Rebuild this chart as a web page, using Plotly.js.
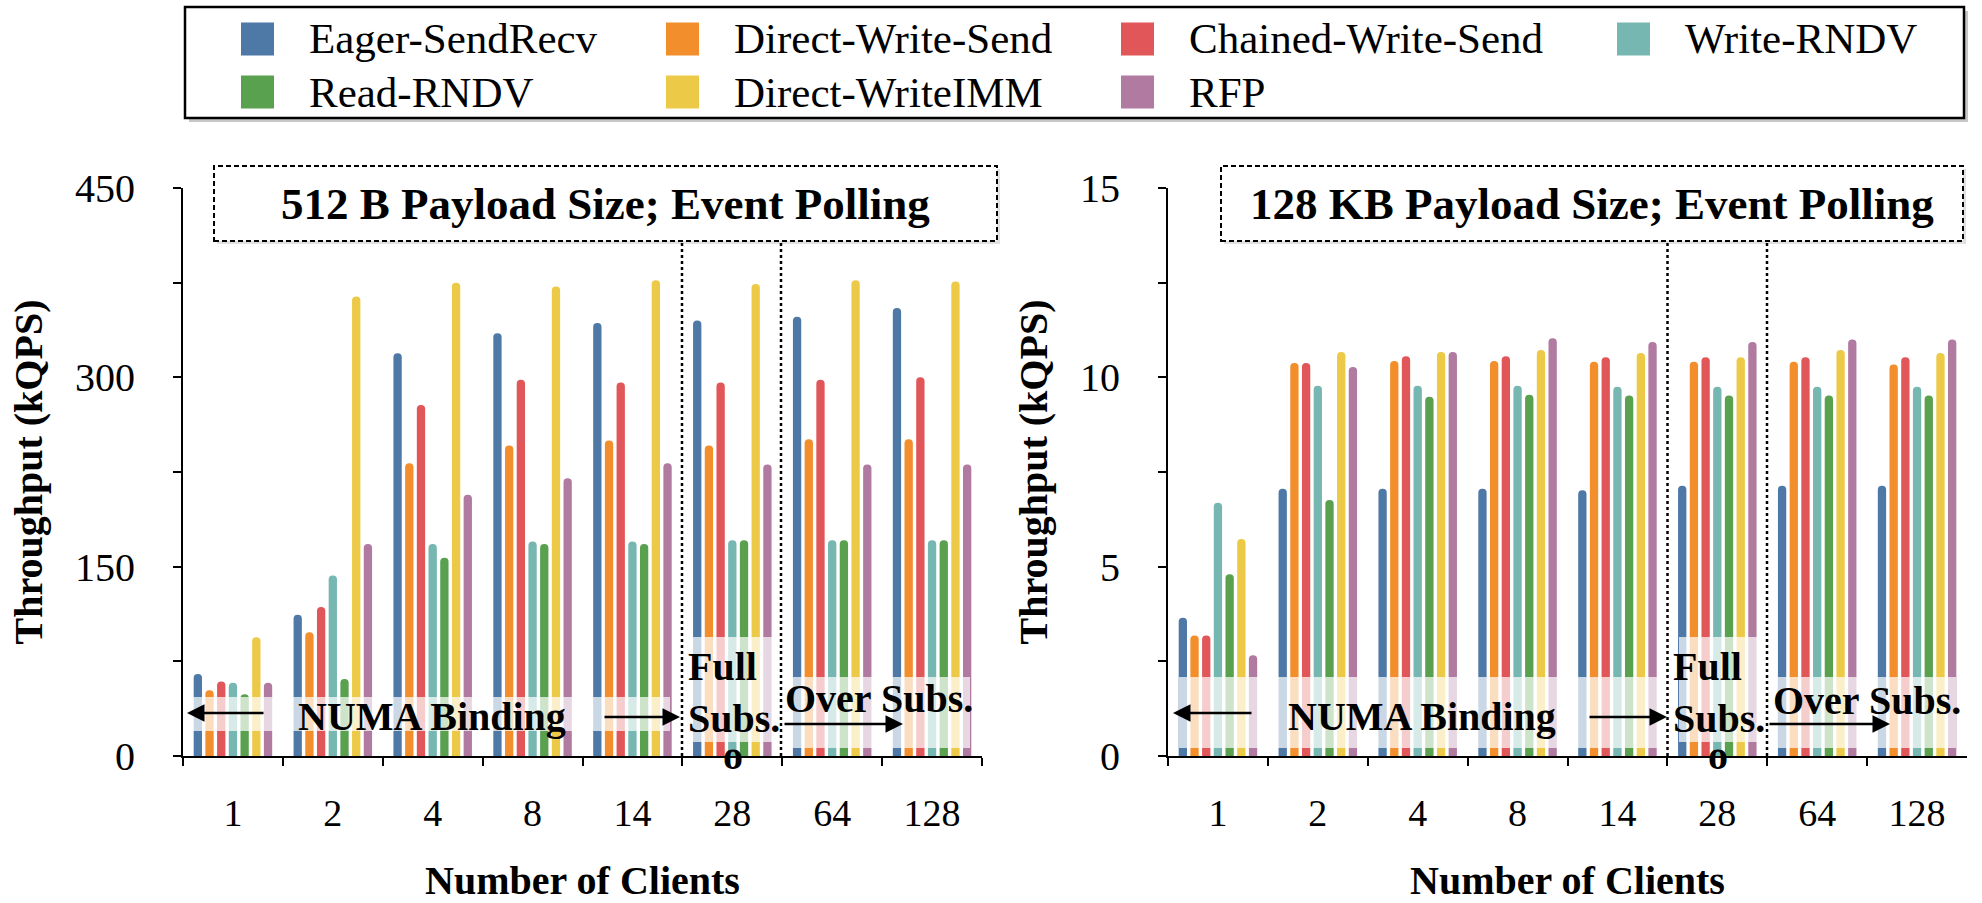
<!DOCTYPE html>
<html><head><meta charset="utf-8">
<script src="https://cdn.plot.ly/plotly-3.0.1.min.js"></script>
<style>html,body{margin:0;padding:0;background:#fff;} #chart{width:1982px;height:903px;}</style>
</head><body><div id="chart"></div>
<script>
// ---- data ----
const clients = ['1','2','4','8','14','28','64','128'];
const seriesNames = ['Eager-SendRecv','Direct-Write-Send','Chained-Write-Send','Write-RNDV','Read-RNDV','Direct-WriteIMM','RFP'];
const seriesColors = ['#4E79A7','#F28E2B','#E15759','#76B7B2','#59A14F','#EDC948','#B07AA1'];

// 512 B payload (kQPS)
const eager512        = [65, 112, 319, 335, 343, 345, 348, 355];
const directWrite512  = [52, 98, 232, 246, 250, 246, 251, 251];
const chained512      = [59, 118, 278, 298, 296, 296, 298, 300];
const writeRndv512    = [58, 143, 168, 170, 170, 171, 171, 171];
const readRndv512     = [49, 61, 157, 168, 168, 171, 171, 171];
const writeImm512     = [94, 364, 375, 372, 377, 374, 377, 376];
const rfp512          = [58, 168, 207, 220, 232, 231, 231, 231];

// 128 KB payload (kQPS)
const eager128k       = [3.65, 7.06, 7.06, 7.06, 7.02, 7.14, 7.14, 7.14];
const directWrite128k = [3.18, 10.38, 10.43, 10.43, 10.41, 10.41, 10.41, 10.34];
const chained128k     = [3.18, 10.38, 10.56, 10.56, 10.53, 10.53, 10.53, 10.53];
const writeRndv128k   = [6.69, 9.78, 9.78, 9.78, 9.75, 9.75, 9.75, 9.75];
const readRndv128k    = [4.80, 6.76, 9.49, 9.54, 9.52, 9.52, 9.52, 9.52];
const writeImm128k    = [5.73, 10.67, 10.67, 10.72, 10.64, 10.53, 10.72, 10.64];
const rfp128k         = [2.66, 10.27, 10.67, 11.03, 10.93, 10.93, 11.00, 11.00];

const panel512  = [eager512, directWrite512, chained512, writeRndv512, readRndv512, writeImm512, rfp512];
const panel128k = [eager128k, directWrite128k, chained128k, writeRndv128k, readRndv128k, writeImm128k, rfp128k];

// ---- layout helpers ----
const W = 1982, H = 903;
const px = x => x / W, py = y => 1 - y / H;
const FONT = 'Liberation Serif, Times New Roman, serif';

const traces = [];
seriesNames.forEach((name, i) => {
  traces.push({type:'bar', name:name, x:clients, y:panel512[i], xaxis:'x', yaxis:'y',
    marker:{color:seriesColors[i], cornerradius:'50%'}, showlegend:false, hoverinfo:'skip'});
  traces.push({type:'bar', name:name, x:clients, y:panel128k[i], xaxis:'x2', yaxis:'y2',
    marker:{color:seriesColors[i], cornerradius:'50%'}, showlegend:false, hoverinfo:'skip'});
});

function rect(x0, y0, x1, y1, extra) {
  return Object.assign({type:'rect', xref:'paper', yref:'paper',
    x0:px(x0), x1:px(x1), y0:py(y1), y1:py(y0)}, extra);
}
function vline(x, y0, y1, extra) {
  return Object.assign({type:'line', xref:'paper', yref:'paper',
    x0:px(x), x1:px(x), y0:py(y1), y1:py(y0)}, extra);
}
function txt(text, x, y, font, extra) {
  return Object.assign({text:text, x:px(x), y:py(y), xref:'paper', yref:'paper', showarrow:false,
    xanchor:'center', yanchor:'middle', font:font}, extra);
}
function arrow(hx, hy, tx, ty) {
  return {text:'', x:px(hx), y:py(hy), xref:'paper', yref:'paper', showarrow:true,
    ax:tx - hx, ay:ty - hy, arrowhead:2, arrowsize:1.4, arrowwidth:2.5, arrowcolor:'black', standoff:0, startstandoff:0};
}

const shapes = [];
const annotations = [];
const legFont = {family:FONT, size:43, color:'black'};
const boldFont = {family:FONT, size:40, color:'black', weight:'bold'};
const boxFont = {family:FONT, size:45, color:'black', weight:'bold'};

// legend (drawn from names/colors)
shapes.push(rect(189, 11, 1968, 122, {fillcolor:'rgba(0,0,0,0.22)', line:{width:0}}));
shapes.push(rect(185, 7, 1964, 118, {fillcolor:'white', line:{color:'black', width:2.5}}));
const legCols = [241, 666, 1121, 1617];
const legRows = [39, 92];
seriesNames.forEach((name, i) => {
  const c = i % 4, r = Math.floor(i / 4);
  const x0 = legCols[c], yc = legRows[r];
  shapes.push(rect(x0, yc - 16.5, x0 + 33, yc + 16.5, {fillcolor:seriesColors[i], line:{width:0}}));
  annotations.push(txt(name, x0 + 66, yc, legFont, {xanchor:'left'}));
});

// pale bands behind region labels
const bands = [[193,697,670,731],[693,637,772,742],[792,677,970,748],
               [1179,677,1657,748],[1679,637,1757,742],[1778,677,1956,748]];
bands.forEach(b => shapes.push(rect(b[0], b[1], b[2], b[3], {fillcolor:'rgba(255,255,255,0.7)', line:{width:0}})));

// dotted separators
[682, 781, 1667.5, 1767].forEach(x => shapes.push(vline(x, 241, 756, {line:{color:'black', width:2.5, dash:'dot'}})));

// title boxes
const boxes = [[214, 166, 997, 241, '512 B Payload Size; Event Polling'],
               [1221, 166, 1963, 241, '128 KB Payload Size; Event Polling']];
boxes.forEach(b => {
  shapes.push(rect(b[0] + 3, b[1] + 3, b[2] + 3, b[3] + 3, {fillcolor:'rgba(0,0,0,0.12)', line:{width:0}}));
  shapes.push(rect(b[0], b[1], b[2], b[3], {fillcolor:'white', line:{color:'black', width:2, dash:'5px,3px'}}));
  annotations.push(txt(b[4], (b[0] + b[2]) / 2, 204, boxFont));
});

// region labels
annotations.push(txt('NUMA Binding', 432, 716, boldFont));
annotations.push(txt('NUMA Binding', 1422, 716, boldFont));
annotations.push(txt('Full<br>Subs.', 686, 692, boldFont, {xanchor:'left', align:'left'}));
annotations.push(txt('Full<br>Subs.', 1671, 692, boldFont, {xanchor:'left', align:'left'}));
annotations.push(txt('Over Subs.', 783, 698, boldFont, {xanchor:'left'}));
annotations.push(txt('Over Subs.', 1771, 700, boldFont, {xanchor:'left'}));
annotations.push(txt('o', 733, 755, boldFont));
annotations.push(txt('o', 1718, 755, boldFont));

annotations.push(arrow(187, 713, 265, 713));
annotations.push(arrow(680, 717, 603, 717));
annotations.push(arrow(903, 724, 783, 724));
annotations.push(arrow(1173, 713, 1253, 713));
annotations.push(arrow(1667, 717, 1588, 717));
annotations.push(arrow(1890, 724, 1768, 724));

const tickFontX = {family:FONT, size:38, color:'black'};
const tickFontY = {family:FONT, size:40, color:'black'};
const titleFont = {family:FONT, size:40, color:'black', weight:'bold'};

function xAxis(domain, anchor) {
  return {domain:domain, anchor:anchor, type:'category', showline:true, linecolor:'black', linewidth:2,
    ticks:'outside', tickson:'boundaries', ticklen:8, tickwidth:2, tickcolor:'black',
    tickfont:tickFontX, ticklabelstandoff:22, showgrid:false, zeroline:false, automargin:false, fixedrange:true,
    title:{text:'Number of Clients', font:titleFont, standoff:40}};
}
function yAxis(domain, anchor, maxV, dt) {
  return {domain:domain, anchor:anchor, range:[0, maxV], tick0:0, dtick:dt, showline:true, linecolor:'black', linewidth:2,
    ticks:'outside', ticklen:8, tickwidth:2, tickcolor:'black', tickfont:tickFontY, ticklabelstandoff:30,
    minor:{dtick:dt / 2, ticks:'outside', ticklen:8, tickwidth:2, tickcolor:'black', showgrid:false},
    showgrid:false, zeroline:false, automargin:false, fixedrange:true,
    title:{text:'Throughput (kQPS)', font:titleFont, standoff:20}};
}

const yDom = [147 / H, 715 / H];
const layout = {
  width:W, height:H, margin:{l:0, r:0, t:0, b:0},
  paper_bgcolor:'white', plot_bgcolor:'white', showlegend:false,
  barmode:'group', bargap:0.18, bargroupgap:0.29,
  xaxis:xAxis([183 / W, 982 / W], 'y'),
  yaxis:yAxis(yDom, 'x', 450, 150),
  xaxis2:xAxis([1168 / W, 1967 / W], 'y2'),
  yaxis2:yAxis(yDom, 'x2', 15, 5),
  shapes:shapes, annotations:annotations
};

Plotly.newPlot('chart', traces, layout, {displayModeBar:false, staticPlot:true});
</script></body></html>
